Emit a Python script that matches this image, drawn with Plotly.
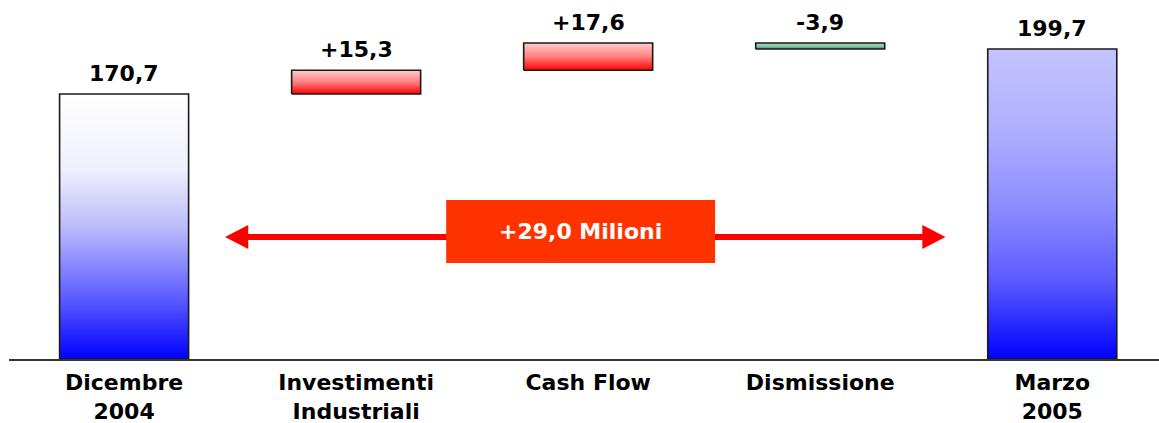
import plotly.graph_objects as go

categories = ["Dicembre<br>2004", "Investimenti<br>Industriali", "Cash Flow", "Dismissione", "Marzo<br>2005"]
values = [170.7, 15.3, 17.6, -3.9, 199.7]
measures = ["total", "relative", "relative", "relative", "total"]
value_labels = ["170,7", "+15,3", "+17,6", "-3,9", "199,7"]
total_label = "+29,0 Milioni"

gradients = [
    [[0, "#0000ff"], [0.25, "#6464ff"], [0.5, "#bcbcfa"], [0.72, "#f0f0fd"], [1, "#ffffff"]],
    [[0, "#ff0000"], [0.5, "#ff7f7f"], [1, "#ffcccc"]],
    [[0, "#ff0000"], [0.5, "#ff7f7f"], [1, "#ffcccc"]],
    [[0, "#4a8a66"], [0.5, "#8ccaa6"], [1, "#a8d8bc"]],
    [[0, "#0000ff"], [0.25, "#5a5aff"], [0.5, "#8e8eff"], [0.75, "#b0b0ff"], [1, "#c4c4ff"]],
]

BAR_W = 0.556
FONT = "DejaVu Sans"

fig = go.Figure()

running = 0.0
for i, (v, m) in enumerate(zip(values, measures)):
    if m == "total":
        lo, hi = 0.0, v
        running = v
    else:
        lo, hi = sorted([running, running + v])
        running = running + v
    x0, x1 = i - BAR_W / 2, i + BAR_W / 2
    fig.add_trace(go.Scatter(
        x=[x0, x1, x1, x0, x0], y=[lo, lo, hi, hi, lo],
        mode="lines", fill="toself",
        fillgradient=dict(type="vertical", colorscale=gradients[i]),
        line=dict(color="#1a1a1a", width=1.6),
        hoverinfo="skip", showlegend=False,
    ))
    fig.add_annotation(
        x=i, y=hi, text=value_labels[i], showarrow=False,
        yanchor="bottom", yshift=6,
        font=dict(family=FONT, size=22, color="#000000", weight="bold"),
    )

# double arrow spanning the changes
ay = 78.6
fig.add_shape(type="line", x0=0.53, x1=3.445, y0=ay, y1=ay,
              line=dict(color="#ff0000", width=6), layer="above")
fig.add_shape(type="path", path=f"M 0.435 {ay} L 0.535 {ay+7.7} L 0.535 {ay-7.7} Z",
              fillcolor="#ff0000", line=dict(width=0), layer="above")
fig.add_shape(type="path", path=f"M 3.54 {ay} L 3.44 {ay+7.7} L 3.44 {ay-7.7} Z",
              fillcolor="#ff0000", line=dict(width=0), layer="above")
fig.add_shape(type="rect", x0=1.388, x1=2.547, y0=61.9, y1=102.4,
              fillcolor="#ff3300", line=dict(width=0), layer="above")
fig.add_annotation(x=1.967, y=82.2, text=total_label, showarrow=False,
                   font=dict(family=FONT, size=22, color="#ffffff", weight="bold"))

fig.update_layout(
    width=1159, height=423,
    margin=dict(l=9, r=0, t=0, b=64),
    plot_bgcolor="#ffffff", paper_bgcolor="#ffffff",
    showlegend=False,
    xaxis=dict(
        range=[-0.496, 4.46], tickvals=list(range(len(categories))), ticktext=categories,
        showgrid=False, zeroline=False, showline=True, linecolor="#333333", linewidth=1.5,
        ticks="", ticklabelstandoff=3, automargin=False,
        tickfont=dict(family=FONT, size=22, color="#000000", weight="bold"),
        fixedrange=True,
    ),
    yaxis=dict(range=[0, 231.3], visible=False, fixedrange=True, automargin=False),
)

fig.write_html("out.html", config={"displayModeBar": False},
               post_script="document.body.style.margin='0';document.body.style.overflow='hidden';")
